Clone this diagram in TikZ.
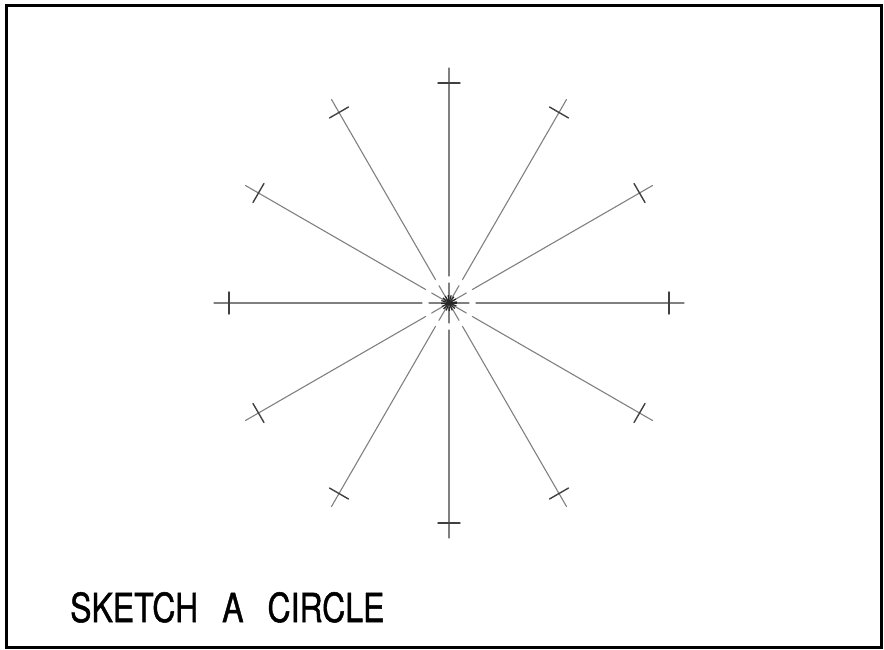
\documentclass[tikz,border=0pt]{standalone}
\usepackage{fontspec}
\setmainfont{TeX Gyre Heros}
\newfontfamily\capfont[FakeBold=1.3]{TeX Gyre Heros}
\usetikzlibrary{calc}
\begin{document}
\begin{tikzpicture}[x=1pt,y=-1pt,
  ray/.style={draw=black!50,line width=1.1pt,line cap=round},
  tickmark/.style={draw=black!75,line width=1.4pt,line cap=round},
  hub/.style={draw=black!85,line width=1.2pt},
  frame/.style={draw=black,line width=3pt},
  caption/.style={anchor=base west,inner sep=0pt,font=\capfont\fontsize{40}{44}\selectfont,xscale=0.8}]
\useasboundingbox (0,0) rectangle (884,650);
\draw[frame] (6,6) rectangle (881,647);
\coordinate (c) at (449,303);
\foreach \a in {0,30,...,330}{
  \coordinate (s\a) at ($(c)+(\a:4)$);
  \coordinate (g\a) at ($(c)+(\a:20)$);
  \coordinate (h\a) at ($(c)+(\a:27)$);
  \coordinate (e\a) at ($(c)+(\a:235)$);
  \coordinate (t\a) at ($(c)+(\a:220)$);
  \coordinate (ta\a) at ($(t\a)+(\a+90:11)$);
  \coordinate (tb\a) at ($(t\a)+(\a-90:11)$);
  \draw[ray] (s\a) -- (g\a);
  \draw[ray] (h\a) -- (e\a);
  \draw[tickmark] (ta\a) -- (tb\a);
}
\foreach \b in {0,22,...,359}{
  \coordinate (k\b) at ($(c)+(\b:8)$);
  \draw[hub] (c) -- (k\b);
}
\node[caption] (label) at (70,622) {SKETCH\hspace{30pt}A\hspace{30pt}CIRCLE};
\end{tikzpicture}
\end{document}
